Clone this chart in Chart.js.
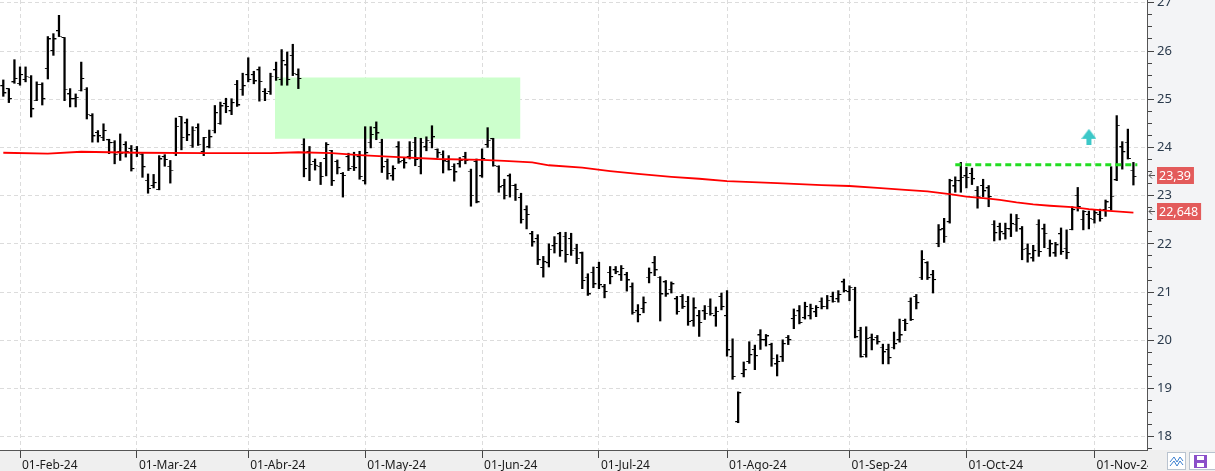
<!DOCTYPE html>
<html>
<head>
<meta charset="utf-8">
<script src="https://cdn.jsdelivr.net/npm/chart.js@4.4.1/dist/chart.umd.min.js"></script>
<style>
  html, body { margin: 0; padding: 0; background: #fff; overflow: hidden; }
  #wrap { width: 1215px; height: 471px; position: relative; }
</style>
</head>
<body>
<div id="wrap"><canvas id="c" width="1215" height="471"></canvas></div>
<script>
// daily OHLC, one entry per session (index 0 = first visible bar, late Jan 2024)
const openVals = [
  25.27,25.21,25.35,25.32,25.40,25.45,24.97,25.30,25.63,26.00,
  26.41,26.27,25.10,25.00,25.18,25.20,24.65,24.30,24.20,24.15,
  24.10,23.90,24.05,23.97,23.95,23.85,23.31,23.20,23.12,23.80,
  23.60,23.87,24.63,24.50,24.04,24.40,23.90,24.00,24.35,24.49,
  24.90,24.75,25.30,25.20,25.50,25.50,25.60,25.15,25.15,25.60,
  25.40,25.70,25.90,25.50,24.06,23.90,23.70,23.60,23.76,23.93,
  23.70,23.45,23.80,23.60,23.80,23.30,24.10,24.40,24.10,23.70,
  23.40,24.00,23.72,23.80,24.10,23.60,24.00,24.10,23.95,23.85,
  23.70,23.60,23.65,23.80,23.50,23.70,23.40,24.05,24.17,23.60,
  23.20,23.40,23.20,22.95,22.70,22.20,22.10,21.50,21.60,21.95,
  22.20,22.15,22.10,21.90,21.80,21.30,21.40,21.50,21.10,21.40,
  21.45,21.35,21.35,21.10,20.60,20.65,21.30,21.60,21.30,21.20,
  21.05,20.85,20.90,20.80,20.40,20.50,20.60,20.70,20.50,20.90,
  20.50,19.65,18.30,19.30,19.55,19.80,20.10,20.00,19.90,19.50,
  19.65,20.05,20.44,20.60,20.46,20.50,20.58,20.80,20.70,20.90,
  20.85,21.20,21.00,21.05,20.20,19.70,20.05,20.05,19.85,19.80,
  19.85,20.00,20.40,20.80,20.90,21.30,21.60,21.35,22.00,22.30,
  22.45,23.19,23.30,23.40,23.45,23.10,23.20,23.15,22.40,22.35,
  22.20,22.30,22.40,22.30,21.90,21.70,22.40,22.30,21.90,21.80,
  22.20,21.90,22.29,23.00,22.50,22.60,22.50,22.60,22.70,22.75,
  23.32,24.00,24.10,23.52
];
const highVals = [
  25.40,25.22,25.82,25.67,25.67,25.49,25.36,25.34,26.30,26.36,
  26.74,26.28,25.22,25.11,25.77,25.24,24.70,24.35,24.49,24.17,
  24.14,24.28,24.12,24.04,24.02,23.87,23.45,23.44,23.83,23.85,
  23.73,24.61,24.64,24.59,24.43,24.49,24.21,24.36,24.87,24.94,
  25.02,25.01,25.39,25.54,25.86,25.58,25.67,25.22,25.54,25.77,
  26.03,25.98,26.14,25.63,24.18,24.02,23.76,23.69,24.10,23.94,
  23.74,23.48,23.88,23.90,23.92,24.43,24.43,24.53,24.17,23.76,
  23.62,24.12,23.79,24.12,24.21,24.19,24.22,24.45,23.97,23.93,
  23.83,23.66,23.79,23.90,23.55,23.76,23.97,24.41,24.19,23.62,
  23.34,23.45,23.24,23.05,22.79,22.26,22.19,21.74,22.00,22.15,
  22.24,22.24,22.22,21.99,21.83,21.38,21.52,21.62,21.16,21.53,
  21.53,21.55,21.41,21.19,20.74,20.90,21.50,21.74,21.32,21.24,
  21.21,20.91,20.95,20.91,20.88,20.62,20.72,20.86,20.69,20.98,
  21.03,20.03,18.93,19.55,19.97,19.90,20.22,20.12,19.94,19.70,
  20.01,20.10,20.65,20.72,20.79,20.75,20.72,20.88,20.93,21.00,
  21.03,21.27,21.13,21.10,20.27,20.28,20.13,20.10,19.92,19.92,
  20.17,20.44,20.44,20.88,20.95,21.86,21.63,21.45,22.40,22.53,
  23.34,23.39,23.69,23.59,23.57,23.19,23.34,23.21,22.48,22.43,
  22.43,22.62,22.61,22.36,22.00,21.97,22.50,22.41,22.08,22.03,
  22.33,22.29,22.77,23.17,22.69,22.68,22.70,22.72,22.91,23.60,
  24.66,24.12,24.38,23.69
];
const lowVals = [
  25.06,24.93,25.33,25.29,25.36,24.63,24.97,24.88,25.42,25.91,
  26.30,24.97,24.84,24.84,25.17,24.59,24.11,24.11,24.14,23.87,
  23.66,23.73,23.80,23.51,23.81,23.38,23.05,23.16,23.12,23.61,
  23.26,23.83,23.95,24.14,24.00,24.04,23.83,23.99,24.30,24.48,
  24.72,24.68,24.85,25.08,25.36,25.32,24.96,24.97,25.10,25.39,
  25.29,25.29,25.49,25.22,23.39,23.31,23.53,23.23,23.41,23.21,
  23.45,22.97,23.52,23.52,23.34,23.24,23.99,24.16,23.48,23.34,
  23.32,23.67,23.57,23.76,23.62,23.45,23.93,23.99,23.79,23.47,
  23.53,23.30,23.59,23.66,22.78,22.85,23.38,24.00,23.61,23.07,
  22.93,22.97,22.90,22.43,22.31,21.95,21.57,21.31,21.52,21.81,
  21.74,21.62,21.76,21.59,21.07,20.93,21.09,21.07,20.88,21.17,
  21.38,21.24,21.02,20.54,20.38,20.57,21.19,21.34,20.40,20.91,
  20.98,20.54,20.66,20.31,20.29,20.08,20.43,20.52,20.29,20.63,
  19.67,19.19,18.29,19.24,19.52,19.39,19.81,19.88,19.46,19.26,
  19.56,19.91,20.24,20.34,20.44,20.44,20.49,20.65,20.65,20.79,
  20.79,21.00,20.82,20.05,19.65,19.65,19.80,19.92,19.51,19.51,
  19.82,19.96,20.20,20.41,20.65,21.26,21.26,20.98,21.94,22.03,
  22.43,23.07,23.07,23.16,23.23,22.74,22.98,22.77,22.06,22.08,
  22.10,22.15,22.26,21.67,21.62,21.64,21.74,21.92,21.74,21.74,
  21.78,21.69,22.29,22.68,22.29,22.31,22.43,22.47,22.57,22.70,
  23.31,23.55,23.76,23.22
];
const closeVals = [
  25.12,25.00,25.42,25.50,25.47,24.79,25.30,25.00,26.24,26.24,
  26.30,25.20,25.00,25.03,25.42,24.68,24.23,24.23,24.34,24.09,
  23.85,23.87,23.90,23.55,23.88,23.59,23.14,23.26,23.75,23.74,
  23.52,24.43,24.20,24.25,24.35,24.06,24.20,24.21,24.71,24.85,
  24.84,24.92,24.87,25.27,25.40,25.37,25.36,25.11,25.47,25.45,
  25.79,25.40,25.53,25.42,23.55,23.64,23.62,23.39,24.05,23.30,
  23.57,23.41,23.55,23.57,23.39,23.88,24.26,24.29,23.59,23.45,
  23.55,23.69,23.67,23.93,23.74,24.10,24.14,24.21,23.88,23.71,
  23.53,23.48,23.72,23.72,23.00,22.86,23.76,24.14,23.62,23.17,
  23.00,23.21,23.12,22.50,22.60,22.03,21.66,21.62,21.88,22.00,
  21.85,21.77,21.86,21.69,21.23,20.95,21.16,21.14,21.00,21.31,
  21.41,21.48,21.24,20.57,20.52,20.77,21.39,21.45,20.95,20.95,
  21.16,20.59,20.69,20.38,20.66,20.36,20.55,20.55,20.59,20.69,
  19.79,19.24,18.90,19.38,19.69,19.67,20.00,20.08,19.62,19.55,
  19.92,20.00,20.51,20.36,20.69,20.65,20.67,20.69,20.82,20.80,
  20.94,21.02,21.09,20.06,19.65,20.03,20.00,19.96,19.75,19.63,
  19.92,20.10,20.34,20.42,20.77,21.67,21.29,21.25,22.28,22.15,
  23.30,23.31,23.37,23.37,23.34,22.98,23.09,22.97,22.22,22.24,
  22.31,22.41,22.52,21.88,21.78,21.85,21.83,22.21,21.99,21.97,
  21.83,21.81,22.70,22.76,22.66,22.52,22.63,22.52,22.86,22.98,
  24.45,23.90,23.76,23.39
];

// moving average read at a few sessions
const maIndex  = [0, 8, 14, 24, 37, 48, 53, 59, 64, 71, 78, 86, 90, 95, 98, 104, 109, 114, 120, 125,
                  130, 139, 147, 152, 157, 162, 166, 170, 173, 177, 179, 182, 185, 188, 192, 195, 198, 203];
const maValues = [23.89, 23.87, 23.91, 23.89, 23.88, 23.88, 23.90, 23.88, 23.84, 23.80, 23.76, 23.74, 23.72, 23.69, 23.63, 23.58, 23.51, 23.45, 23.39, 23.35,
                  23.30, 23.26, 23.22, 23.20, 23.16, 23.12, 23.09, 23.03, 22.98, 22.94, 22.91, 22.86, 22.82, 22.79, 22.76, 22.72, 22.69, 22.648];

// month ticks on the time axis
const monthTickIndex = [3, 24, 44, 65, 86, 107, 130, 152, 173, 196];
const monthLabels = ['01-Feb-24', '01-Mar-24', '01-Abr-24', '01-May-24', '01-Jun-24',
                     '01-Jul-24', '01-Ago-24', '01-Sep-24', '01-Oct-24', '01-Nov-24'];
const yMajorTicks = [18, 19, 20, 21, 22, 23, 24, 25, 26, 27];

// drawings
const zoneFrom = 48.8, zoneTo = 92.9, zoneTop = 25.45, zoneBottom = 24.18;
const levelFrom = 171, levelTo = 203.7, levelValue = 23.64;
const signalIndex = 195, signalValue = 24.22;
const tagValues = [23.39, 22.648];
const tagTexts = ['23,39', '22,648'];

// minor ticks every quarter
const yTickValues = [];
for (let v = 17.75; v <= 27; v += 0.25) yTickValues.push(v);

function tickMark(side) {
  const c = document.createElement('canvas');
  c.width = 8; c.height = 2;
  const g = c.getContext('2d');
  g.fillStyle = '#000';
  if (side == 'left') g.fillRect(1, 0, 3, 1);
  else g.fillRect(4, 0, 3, 1);
  return c;
}

function upArrow() {
  const c = document.createElement('canvas');
  c.width = 15; c.height = 16;
  const g = c.getContext('2d');
  g.fillStyle = '#3cc8c8';
  g.beginPath();
  g.moveTo(7.5, 0); g.lineTo(15, 10); g.lineTo(10, 10); g.lineTo(10, 16);
  g.lineTo(5, 16); g.lineTo(5, 10); g.lineTo(0, 10);
  g.closePath();
  g.fill();
  return c;
}

const backgroundPlugin = {
  id: 'panels',
  beforeDraw(chart) {
    const {ctx, chartArea: a, width, height} = chart;
    ctx.save();
    ctx.fillStyle = '#f3f4f6';
    ctx.fillRect(a.right, 0, width - a.right, a.bottom);
    ctx.fillStyle = '#efefef';
    ctx.fillRect(0, a.bottom, width, height - a.bottom);
    ctx.fillStyle = '#ffffff';
    ctx.fillRect(a.left, a.top, a.right - a.left, a.bottom - a.top);
    ctx.restore();
  }
};

const overlayPlugin = {
  id: 'tags',
  afterDraw(chart) {
    const {ctx, chartArea: a, width, height} = chart;
    const y = chart.scales.y;
    ctx.save();
    ctx.font = '12.5px "Noto Sans", sans-serif';
    ctx.textBaseline = 'middle';
    tagValues.forEach((v, k) => {
      const py = Math.round(y.getPixelForValue(v));
      const w = ctx.measureText(tagTexts[k]).width + 5;
      ctx.fillStyle = '#e35b5b';
      ctx.fillRect(a.right + 10, py - 10, w, 17);
      ctx.fillStyle = '#ffffff';
      ctx.fillText(tagTexts[k], a.right + 12, py - 1);
      // little arrow pointing at the axis
      ctx.strokeStyle = '#555';
      ctx.lineWidth = 1;
      ctx.beginPath();
      ctx.moveTo(a.right + 2, py - 1.5); ctx.lineTo(a.right + 8, py - 1.5);
      ctx.moveTo(a.right + 5, py - 4.5); ctx.lineTo(a.right + 2, py - 1.5); ctx.lineTo(a.right + 5, py + 1.5);
      ctx.stroke();
    });

    // bottom right corner with the two buttons
    ctx.fillStyle = '#efefef';
    ctx.fillRect(a.right + 1, a.bottom + 1, width - a.right, height - a.bottom);
    ctx.fillStyle = '#ffffff';
    ctx.strokeStyle = '#b9c3cf';
    ctx.fillRect(1167.5, 452.5, 18, 17);
    ctx.strokeRect(1167.5, 452.5, 18, 17);
    ctx.fillRect(1189.5, 452.5, 30, 17);
    ctx.strokeRect(1189.5, 452.5, 30, 17);
    ctx.strokeStyle = '#3b7fd0';
    ctx.beginPath();
    ctx.moveTo(1170, 462); ctx.lineTo(1174, 457); ctx.lineTo(1177, 462); ctx.lineTo(1180, 457); ctx.lineTo(1183, 461);
    ctx.moveTo(1170, 466); ctx.lineTo(1174, 461); ctx.lineTo(1177, 466); ctx.lineTo(1180, 461); ctx.lineTo(1183, 465);
    ctx.stroke();
    ctx.fillStyle = '#8b4fc9';
    ctx.fillRect(1194, 455, 13, 13);
    ctx.fillStyle = '#ffffff';
    ctx.fillRect(1197, 456, 7, 4);
    ctx.fillRect(1197, 463, 7, 4);
    ctx.restore();
  }
};

const rangeData = highVals.map((h, i) => ({x: i, y: [lowVals[i], h]}));
const openData = openVals.map((v, i) => ({x: i, y: v}));
const closeData = closeVals.map((v, i) => ({x: i, y: v}));
const maData = maIndex.map((x, k) => ({x: x, y: maValues[k]}));

const isMajor = (c) => c.tick && yMajorTicks.includes(c.tick.value);

Chart.defaults.font.family = '"Noto Sans", sans-serif';

new Chart(document.getElementById('c'), {
  type: 'line',
  data: {
    datasets: [
      {
        type: 'line',
        data: [{x: zoneFrom, y: zoneTop}, {x: zoneTo, y: zoneTop}],
        borderWidth: 0, pointRadius: 0,
        backgroundColor: '#ccffcc',
        fill: '+1',
        order: 10
      },
      {
        type: 'line',
        data: [{x: zoneFrom, y: zoneBottom}, {x: zoneTo, y: zoneBottom}],
        borderWidth: 0, pointRadius: 0,
        fill: false,
        order: 10
      },
      {
        type: 'bar',
        data: rangeData,
        backgroundColor: '#000',
        borderWidth: 0,
        barThickness: 1.6,
        grouped: false,
        order: 5
      },
      {
        type: 'scatter',
        data: openData,
        pointStyle: tickMark('left'),
        pointRadius: 3,
        order: 4
      },
      {
        type: 'scatter',
        data: closeData,
        pointStyle: tickMark('right'),
        pointRadius: 3,
        order: 4
      },
      {
        type: 'line',
        data: maData,
        borderColor: '#ff0000',
        borderWidth: 1.8,
        pointRadius: 0,
        tension: 0,
        fill: false,
        order: 2
      },
      {
        type: 'line',
        data: [{x: levelFrom, y: levelValue}, {x: levelTo, y: levelValue}],
        borderColor: '#22dd22',
        borderWidth: 3,
        borderDash: [6, 4],
        pointRadius: 0,
        fill: false,
        order: 1
      },
      {
        type: 'scatter',
        data: [{x: signalIndex, y: signalValue}],
        pointStyle: upArrow(),
        pointRadius: 8,
        order: 0
      }
    ]
  },
  options: {
    responsive: false,
    animation: false,
    devicePixelRatio: 1,
    events: [],
    layout: { padding: 0, autoPadding: false },
    plugins: {
      legend: { display: false },
      tooltip: { enabled: false },
      filler: { drawTime: 'beforeDatasetsDraw' }
    },
    scales: {
      x: {
        type: 'linear',
        position: 'bottom',
        offset: false,
        min: -0.593,
        max: 205.44,
        afterBuildTicks: (s) => { s.ticks = monthTickIndex.map(v => ({value: v})); },
        afterFit: (s) => { s.height = 21; s.paddingLeft = 0; s.paddingRight = 0; },
        ticks: {
          autoSkip: false,
          maxRotation: 0,
          align: 'start',
          labelOffset: 2,
          padding: 0,
          color: '#1b1b1b',
          font: { size: 12 },
          callback: (v, i) => monthLabels[i]
        },
        grid: { offset: false, color: '#dcdcdc', lineWidth: 1, tickColor: '#444', tickLength: 8 },
        border: { color: '#555', dash: [4, 3] }
      },
      y: {
        type: 'linear',
        position: 'right',
        min: 17.724,
        max: 27.058,
        afterBuildTicks: (s) => { s.ticks = yTickValues.map(v => ({value: v})); },
        afterFit: (s) => { s.width = 68; s.paddingTop = 0; s.paddingBottom = 0; },
        ticks: {
          autoSkip: false,
          padding: 3,
          color: '#2a3a4c',
          font: { size: 13 },
          callback: (v) => yMajorTicks.includes(v) ? String(v) : ''
        },
        grid: {
          color: (c) => isMajor(c) ? '#dcdcdc' : 'rgba(0,0,0,0)',
          tickColor: '#444',
          tickLength: 7,
          tickBorderDash: (c) => isMajor(c) ? [] : [4, 20]
        },
        border: { color: '#555', dash: [4, 3] }
      }
    }
  },
  plugins: [backgroundPlugin, overlayPlugin]
});
</script>
</body>
</html>
